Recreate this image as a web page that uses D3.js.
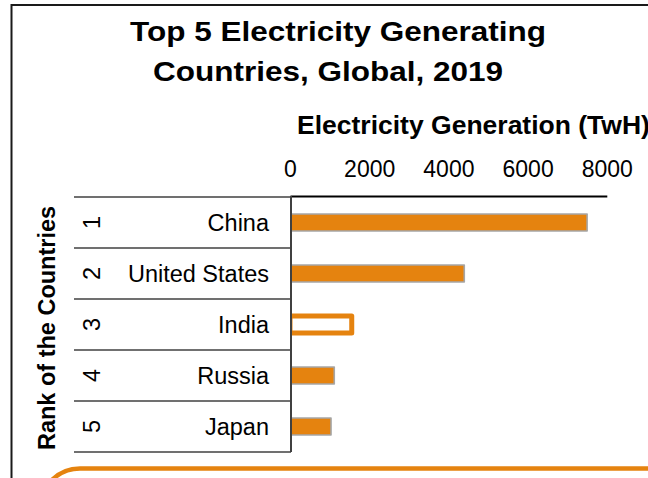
<!DOCTYPE html>
<html>
<head>
<meta charset="utf-8">
<script src="https://cdn.jsdelivr.net/npm/d3@7"></script>
<style>
  html, body { margin: 0; padding: 0; background: #ffffff; }
  svg { display: block; font-family: "Liberation Sans", Arial, sans-serif; }
</style>
</head>
<body>
<svg id="chart" width="648" height="478"></svg>
<script>
const titleLines = ["Top 5 Electricity Generating", "Countries, Global, 2019"];
const xAxisTitle = "Electricity Generation (TwH)";
const yAxisTitle = "Rank of the Countries";
const ranks = ["1", "2", "3", "4", "5"];
const countries = ["China", "United States", "India", "Russia", "Japan"];
const generation = [7503, 4401, 1559, 1118, 1036];
const highlighted = ["India"];
const xTicks = [0, 2000, 4000, 6000, 8000];

const ORANGE = "#e5830f";
const svg = d3.select("#chart");

// outer frame (slide border)
svg.append("line").attr("x1", 11).attr("x2", 648).attr("y1", 5).attr("y2", 5)
  .attr("stroke", "#1a1a1a").attr("stroke-width", 2);
svg.append("line").attr("x1", 11.5).attr("x2", 11.5).attr("y1", 4).attr("y2", 478)
  .attr("stroke", "#1a1a1a").attr("stroke-width", 2);

// title
const titlePos = [{x: 130, y: 41, w: 416}, {x: 153, y: 81, w: 350}];
svg.selectAll("text.title").data(titleLines).join("text")
  .attr("class", "title")
  .attr("x", (d, i) => titlePos[i].x)
  .attr("y", (d, i) => titlePos[i].y)
  .attr("textLength", (d, i) => titlePos[i].w)
  .attr("lengthAdjust", "spacingAndGlyphs")
  .attr("font-size", 28).attr("font-weight", "bold").attr("fill", "#000")
  .text(d => d);

// scales
const x = d3.scaleLinear().domain([0, 8000]).range([290, 606.8]);
const y = d3.scaleBand().domain(countries).range([197, 452])
  .paddingInner(2 / 3).paddingOuter(1 / 3);
const step = y.step();
const rowTop = i => 197 + i * step;

// x axis title
svg.append("text").attr("x", 297).attr("y", 134)
  .attr("font-size", 26.5).attr("font-weight", "bold").attr("fill", "#000")
  .text(xAxisTitle);

// top x axis
const xAxis = svg.append("g").attr("transform", "translate(0,196)")
  .call(d3.axisTop(x).tickValues(xTicks).tickSize(0).tickPadding(19.5).tickFormat(d3.format("d")));
xAxis.select(".domain").attr("stroke", "#000").attr("stroke-width", 2);
xAxis.selectAll("text").attr("font-size", 23).attr("fill", "#000")
  .attr("font-family", "\"Liberation Sans\", Arial, sans-serif");

// table lines
const bounds = d3.range(countries.length + 1);
svg.selectAll("line.row").data(bounds).join("line")
  .attr("class", "row")
  .attr("x1", 74).attr("x2", 291)
  .attr("y1", i => rowTop(i)).attr("y2", i => rowTop(i))
  .attr("stroke", "#404040").attr("stroke-width", 1.5);

// y axis title
svg.append("text").attr("transform", "translate(55,328) rotate(-90)")
  .attr("text-anchor", "middle").attr("font-size", 23.5).attr("font-weight", "bold")
  .attr("fill", "#000").text(yAxisTitle);

// rank numbers
svg.selectAll("text.rank").data(ranks).join("text")
  .attr("class", "rank")
  .attr("transform", (d, i) => `translate(100,${y(countries[i]) + y.bandwidth() / 2}) rotate(-90)`)
  .attr("text-anchor", "middle").attr("font-size", 23.5).attr("fill", "#000")
  .text(d => d);

// country labels
svg.selectAll("text.country").data(countries).join("text")
  .attr("class", "country")
  .attr("x", 269)
  .attr("y", d => y(d) + y.bandwidth() / 2 + 8)
  .attr("text-anchor", "end").attr("font-size", 23.5).attr("fill", "#000")
  .text(d => d);

// clip for bars (bars start at the axis)
svg.append("defs").append("clipPath").attr("id", "plotClip")
  .append("rect").attr("x", 291).attr("y", 190).attr("width", 360).attr("height", 270);

// bars
const data = countries.map((c, i) => ({country: c, value: generation[i]}));
svg.append("g").attr("clip-path", "url(#plotClip)")
  .selectAll("rect.bar").data(data).join("rect")
  .attr("class", "bar")
  .attr("x", x(0))
  .attr("y", d => y(d.country))
  .attr("width", d => x(d.value) - x(0))
  .attr("height", y.bandwidth())
  .attr("fill", d => highlighted.includes(d.country) ? "#ffffff" : ORANGE)
  .attr("stroke", d => highlighted.includes(d.country) ? ORANGE : "#a6a6a6")
  .attr("stroke-width", d => highlighted.includes(d.country) ? 5 : 1.6)
  .attr("stroke-linejoin", "round");

// vertical axis line
svg.append("line").attr("x1", 291).attr("x2", 291).attr("y1", 196).attr("y2", 452)
  .attr("stroke", "#404040").attr("stroke-width", 2);

// orange rounded box at bottom
svg.append("rect").attr("x", 40).attr("y", 468.5).attr("width", 700).attr("height", 120)
  .attr("rx", 40).attr("ry", 40)
  .attr("fill", "#ffffff").attr("stroke", ORANGE).attr("stroke-width", 4.5);
</script>
</body>
</html>
